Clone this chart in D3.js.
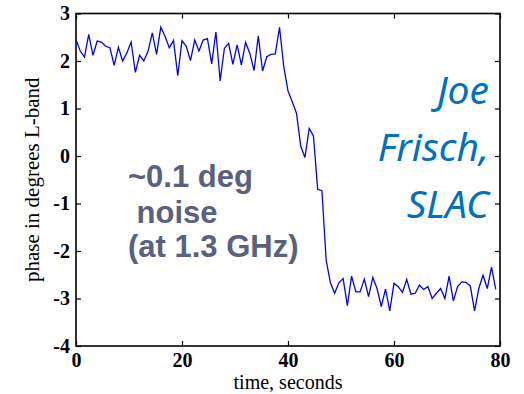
<!DOCTYPE html>
<html>
<head>
<meta charset="utf-8">
<script src="https://cdn.jsdelivr.net/npm/d3@7"></script>
<style>
  html, body { margin: 0; padding: 0; background: #fff; }
  svg { display: block; }
</style>
</head>
<body>
<svg id="chart" width="524" height="394"></svg>
<script>
// phase samples, one every 0.8 s
const sampleStep = 0.8;
const phase = [
  2.45, 2.21, 2.08, 2.56, 2.12, 2.42, 2.40, 2.31, 2.28, 1.91,
  2.29, 2.00, 2.17, 2.40, 1.76, 2.12, 2.00, 2.21, 2.59, 2.14,
  2.71, 2.52, 2.28, 2.43, 1.69, 2.43, 2.31, 2.01, 2.44, 2.21,
  2.44, 2.47, 1.94, 2.61, 1.58, 2.27, 2.37, 1.93, 2.34, 1.92,
  2.39, 2.16, 1.80, 2.53, 1.79, 2.09, 2.14, 2.15, 2.71, 1.88,
  1.37, 1.14, 0.90, 0.21, -0.03, 0.58, 0.42, -0.70, -0.73, -2.19,
  -2.67, -2.89, -2.67, -2.58, -3.15, -2.53, -2.86, -2.86, -2.59, -2.96,
  -2.56, -2.79, -3.17, -2.80, -3.26, -2.68, -2.75, -2.87, -2.60, -2.91,
  -2.89, -2.72, -2.81, -2.75, -3.00, -2.89, -2.79, -3.00, -2.53, -3.05,
  -2.75, -2.65, -2.66, -2.74, -3.26, -2.79, -2.51, -2.79, -2.34, -2.81
];
const xTicks = [0, 20, 40, 60, 80];
const yTicks = [-4, -3, -2, -1, 0, 1, 2, 3];
const noiseNote = ["~0.1 deg", " noise", "(at 1.3 GHz)"];
const credit = ["Joe", "Frisch,", "SLAC"];

const svg = d3.select("#chart");
const pLeft = 76, pRight = 500, pTop = 13.5, pBottom = 346;

const x = d3.scaleLinear().domain([0, 80]).range([pLeft, pRight]);
const y = d3.scaleLinear().domain([-4, 3]).range([pBottom, pTop]);

const serif = "'Liberation Serif', 'Times New Roman', serif";
const plain = d => String(d);   // hyphen minus, no decimals

// axes, ticks pointing inward
svg.append("g").attr("transform", `translate(0,${pBottom})`)
  .call(d3.axisBottom(x).tickValues(xTicks).tickFormat(plain).tickSize(-5).tickPadding(7));
svg.append("g").attr("transform", `translate(${pLeft},0)`)
  .call(d3.axisLeft(y).tickValues(yTicks).tickFormat(plain).tickSize(-5).tickPadding(6));
svg.append("g").attr("transform", `translate(0,${pTop})`)
  .call(d3.axisTop(x).tickValues(xTicks).tickSize(-5).tickFormat(""));
svg.append("g").attr("transform", `translate(${pRight},0)`)
  .call(d3.axisRight(y).tickValues(yTicks).tickSize(-5).tickFormat(""));

svg.selectAll(".domain").remove();
svg.selectAll(".tick line").attr("stroke", "#000").attr("stroke-width", 1.2);
svg.selectAll(".tick text")
  .attr("font-family", serif).attr("font-weight", "bold")
  .attr("font-size", 20).attr("fill", "#000");

svg.append("rect")
  .attr("x", pLeft).attr("y", pTop)
  .attr("width", pRight - pLeft).attr("height", pBottom - pTop)
  .attr("fill", "none").attr("stroke", "#000").attr("stroke-width", 1.6);

// the trace
const line = d3.line()
  .x((d, i) => x(i * sampleStep))
  .y(d => y(d));
svg.append("path").datum(phase)
  .attr("d", line)
  .attr("fill", "none")
  .attr("stroke", "#0000ff")
  .attr("stroke-width", 1.3);

// axis titles
svg.append("text")
  .attr("x", 288).attr("y", 389)
  .attr("text-anchor", "middle")
  .attr("font-family", serif).attr("font-size", 20)
  .text("time, seconds");
svg.append("text")
  .attr("transform", `translate(39,${(pTop + pBottom) / 2}) rotate(-90)`)
  .attr("text-anchor", "middle")
  .attr("font-family", serif).attr("font-size", 21)
  .text("phase in degrees L-band");

// annotations
const noiseY = [187, 223, 257];
svg.append("g").selectAll("text").data(noiseNote).join("text")
  .attr("x", 128)
  .attr("y", (d, i) => noiseY[i])
  .attr("xml:space", "preserve")
  .style("white-space", "pre")
  .attr("font-family", "'Liberation Sans', Arial, sans-serif")
  .attr("font-weight", "bold").attr("font-size", 31)
  .attr("fill", "#59617f")
  .text(d => d);

const creditY = [104, 161, 218];
svg.append("g").selectAll("text").data(credit).join("text")
  .attr("x", 489)
  .attr("y", (d, i) => creditY[i])
  .attr("text-anchor", "end")
  .attr("font-family", "'Noto Sans', 'Open Sans', sans-serif")
  .attr("font-style", "italic").attr("font-size", 39)
  .attr("fill", "#0070c0")
  .text(d => d);
</script>
</body>
</html>
